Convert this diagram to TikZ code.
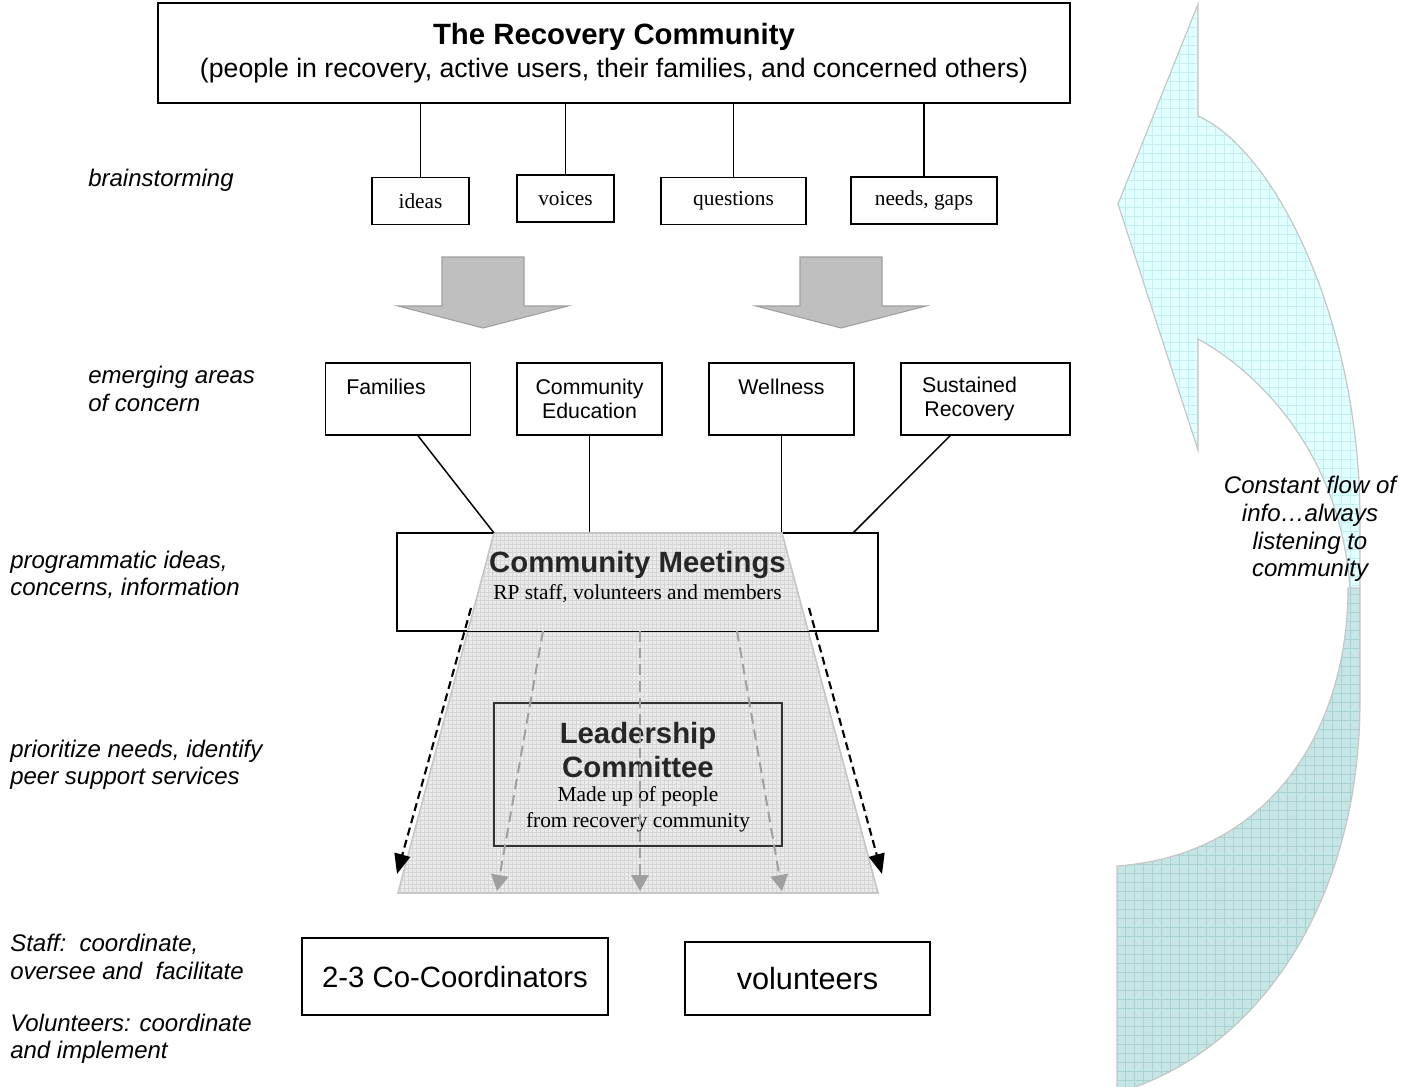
\documentclass[tikz,border=0pt]{standalone}
\usepackage{fontspec}
\setmainfont{Liberation Sans}
\newfontfamily\seriffont{Liberation Serif}
\usetikzlibrary{positioning, arrows.meta, calc}

\definecolor{flowlight}{RGB}{224,255,255}
\definecolor{flowlightgrid}{RGB}{196,238,242}
\definecolor{flowdark}{RGB}{198,230,230}
\definecolor{flowdarkgrid}{RGB}{168,210,212}

\begin{document}
\begin{tikzpicture}[
    x=0.75pt, y=-0.75pt,
    box/.style={rectangle, draw, line width=1.1pt, inner sep=0pt, align=center},
    termbox/.style={box, font=\seriffont\fontsize{16}{19}\selectfont, minimum height=35.5pt},
    areabox/.style={box, font=\fontsize{16}{18}\selectfont, minimum width=108.75pt, minimum height=54pt},
    side/.style={font=\itshape\fontsize{18}{20.5}\selectfont, align=left, anchor=west, inner sep=0pt},
    link/.style={line width=1.1pt},
    bigarrow/.style={fill=gray!50, draw=gray!75, line width=0.8pt},
    trap/.style={fill=gray!16, draw=gray!45, line width=1.2pt,
                 path picture={\draw[gray!32, line width=0.25pt, step=3pt]
                   (path picture bounding box.south west) grid (path picture bounding box.north east);}},
    flowtop/.style={fill=flowlight, draw=gray!45, line width=0.9pt,
                 path picture={\draw[flowlightgrid, line width=0.4pt, step=6.75pt]
                   (path picture bounding box.south west) grid (path picture bounding box.north east);}},
    flowbot/.style={fill=flowdark, draw=gray!45, line width=0.9pt,
                 path picture={\draw[flowdarkgrid, line width=0.4pt, step=6.75pt]
                   (path picture bounding box.south west) grid (path picture bounding box.north east);}},
    flow/.style={dashed, dash pattern=on 6pt off 3.5pt, line width=1.6pt, -{Triangle[length=15pt,width=12pt]}},
    flowgray/.style={dashed, dash pattern=on 8pt off 4.5pt, line width=1.5pt, gray!75, -{Triangle[length=12pt,width=13pt]}},
]
\useasboundingbox[fill=white] (0,0) rectangle (1417,1086);

% Recovery community and brainstorming
\node[box, minimum width=684pt, minimum height=75pt, font=\fontsize{20}{24.75}\selectfont] (rc) at (614,53)
    {{\bfseries\fontsize{22}{24.75}\selectfont The Recovery Community}\\(people in recovery, active users, their families, and concerned others)};

\node[termbox, minimum width=72.75pt] (ideas) at (420.5,201) {ideas};
\node[termbox, minimum width=72.75pt] (voices) at (565.5,198.5) {voices};
\node[termbox, minimum width=108.75pt] (quest) at (733.5,201) {questions};
\node[termbox, minimum width=109.5pt] (needs) at (924,200.5) {needs, gaps};

\draw[link] (ideas.north |- rc.south) -- (ideas.north);
\draw[link] (voices.north |- rc.south) -- (voices.north);
\draw[link] (quest.north |- rc.south) -- (quest.north);
\draw[link] (needs.north |- rc.south) -- (needs.north);

% Block arrows
\coordinate (la) at (483,257);
\coordinate (ra) at (841,257);
\draw[bigarrow] (la) ++(-41,0) -- ++(82,0) -- ++(0,49) -- ++(44,0) -- ++(-85,22) -- ++(-85,-22) -- ++(44,0) -- cycle;
\draw[bigarrow] (ra) ++(-41,0) -- ++(82,0) -- ++(0,49) -- ++(44,0) -- ++(-85,22) -- ++(-85,-22) -- ++(44,0) -- cycle;

% Areas of concern
\node[areabox] (fam) at (398,399) {Families\hspace*{18pt}\\\mbox{}};
\node[areabox] (edu) at (589.5,399) {Community\\Education};
\node[areabox] (well) at (781.5,399) {Wellness\\\mbox{}};
\node[areabox, minimum width=126.75pt] (sust) at (985.5,399) {Sustained\hspace*{24pt}\\Recovery\hspace*{24pt}};

% Community meetings and funnel
\node[box, fill=white, minimum width=360.75pt, minimum height=73.5pt] (cm) at (637.5,582) {};
\coordinate (tl) at (494,533);
\coordinate (tr) at (782,533);
\coordinate (bl) at (398,893);
\coordinate (br) at (878,893);
\coordinate (cmr) at (853,533);
\draw[trap] (tl) -- (tr) -- (br) -- (bl) -- cycle;
\draw[link] (cm.south west) -- (cm.south east);

\draw[link] ([xshift=15pt]fam.south) -- (tl);
\draw[link] (edu.south) -- (edu.south |- cm.north);
\draw[link] (well.south) -- (well.south |- cm.north);
\draw[link] ([xshift=-26.6pt]sust.south) -- (cmr);

\node[font=\bfseries\fontsize{22}{24}\selectfont, text=black!85] (cmtitle) at (637.5,565) {Community Meetings};
\node[font=\seriffont\fontsize{16}{19}\selectfont] (cmsub) at (637.5,594) {RP staff, volunteers and members};

% Leadership committee
\node[box, draw=black!80, line width=1.6pt, minimum width=216pt, minimum height=107.25pt] (lc) at (638,774.5) {};
\node[align=center, font=\bfseries\fontsize{22}{25.5}\selectfont, text=black!85] (lctitle) at (638,750) {Leadership\\Committee};
\node[align=center, font=\seriffont\fontsize{16}{19.5}\selectfont] (lcsub) at (638,809) {Made up of people\\from recovery community};

% Flow out of the meetings
\coordinate (d1s) at (471,608);
\coordinate (d1e) at (397,874);
\coordinate (d2s) at (543,631);
\coordinate (d2e) at (497,891);
\coordinate (d3s) at (640,631);
\coordinate (d3e) at (640,891);
\coordinate (d4s) at (737,631);
\coordinate (d4e) at (782,891);
\coordinate (d5s) at (809,608);
\coordinate (d5e) at (882,874);
\draw[flow] (d1s) -- (d1e);
\draw[flow] (d5s) -- (d5e);
\draw[flowgray] (d2s) -- (d2e);
\draw[flowgray] (d3s) -- (d3e);
\draw[flowgray] (d4s) -- (d4e);

% Staff and volunteers
\node[box, minimum width=229.5pt, minimum height=57.75pt, font=\fontsize{22}{26}\selectfont] (coord) at (455,976.5) {2-3 Co-Coordinators};
\node[box, minimum width=183.75pt, minimum height=54.75pt, font=\fontsize{23}{26}\selectfont] (vol) at (807.5,978.5) {volunteers};

% Stage labels
\node[side] (brain) at (88,180) {brainstorming};
\node[side] (emerg) at (88,389) {emerging areas\\of concern};
\node[side] (prog) at (10,574.5) {programmatic ideas,\\concerns, information};
\node[side] (prio) at (10,765) {prioritize needs, identify\\peer support services};
\node[side] (staff) at (10,957) {Staff:\ \ coordinate,\\oversee and\ \ facilitate};
\node[side] (volun) at (10,1039) {Volunteers: coordinate\\and implement};

% Feedback arrow
\draw[flowbot] (1348,588) -- (1360,588) -- (1360,700) .. controls (1360,900) and (1260,1050) .. (1120,1092)
    -- (1117,1092) -- (1117,866) .. controls (1270,855) and (1348,730) .. (1348,588) -- cycle;
\draw[flowtop] (1198,4) -- (1198,116) .. controls (1275,150) and (1360,320) .. (1360,520) -- (1360,588)
    -- (1350,588) .. controls (1340,450) and (1255,370) .. (1198,339) -- (1198,450) -- (1118,204) -- cycle;
\node[align=center, font=\itshape\fontsize{18}{20.8}\selectfont] (flowtxt) at (1310,529)
    {Constant flow of\\info\ldots always\\listening to\\community};
\end{tikzpicture}
\end{document}
